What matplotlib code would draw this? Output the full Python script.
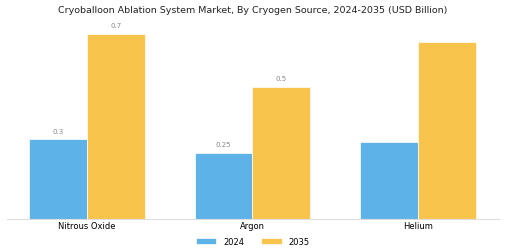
import matplotlib
matplotlib.use("Agg")
import matplotlib.pyplot as plt
import numpy as np

categories = ["Nitrous Oxide", "Argon", "Helium"]
series_names = ["2024", "2035"]
values_2024 = [0.3, 0.25, 0.29]
values_2035 = [0.7, 0.5, 0.67]
labels_2024 = ["0.3", "0.25", None]
labels_2035 = ["0.7", "0.5", None]

colors = ["#5DB3E8", "#F9C44C"]

fig = plt.figure(figsize=(5.05, 2.53), dpi=100)
ax = fig.add_axes([0.014, 0.132, 0.974, 0.779])

x = np.arange(len(categories))
w = 0.35
b1 = ax.bar(x - w/2, values_2024, w, color=colors[0], label=series_names[0], edgecolor="white", linewidth=0.5)
b2 = ax.bar(x + w/2, values_2035, w, color=colors[1], label=series_names[1], edgecolor="white", linewidth=0.5)

for bars, labs in ((b1, labels_2024), (b2, labels_2035)):
    for rect, lab in zip(bars, labs):
        if lab:
            ax.text(rect.get_x() + rect.get_width()/2, rect.get_height() + 0.02, lab,
                    ha="center", va="bottom", fontsize=5, color="#888888")

ax.set_xlim(-0.483, 2.49)
ax.set_ylim(0, 0.746)
ax.set_xticks(x)
ax.set_xticklabels(categories, fontsize=6)
ax.tick_params(axis="x", length=0, pad=2)
ax.set_yticks([])
for s in ["top", "right", "left"]:
    ax.spines[s].set_visible(False)
ax.spines["bottom"].set_color("#dddddd")

fig.suptitle("Cryoballoon Ablation System Market, By Cryogen Source, 2024-2035 (USD Billion)",
             fontsize=6.8, color="#222222", y=0.975)
fig.legend(loc="lower center", ncol=2, fontsize=6, frameon=False, bbox_to_anchor=(0.5, -0.005),
           handlelength=2.5, handleheight=0.8, columnspacing=2)

fig.savefig("out.png", dpi=100)
